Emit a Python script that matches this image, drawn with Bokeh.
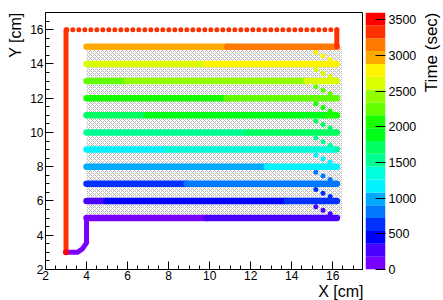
import colorsys
from bokeh.plotting import figure
from bokeh.layouts import row
from bokeh.models import SingleIntervalTicker, FixedTicker, Title
from bokeh.embed import file_html
from bokeh.resources import INLINE

FONT = "Liberation Sans"

# ---------------- data ----------------
# scan lines: y [cm], x start/end [cm], time [sec] at start/end
line_y  = [5, 6, 7, 8, 9, 10, 11, 12, 13, 14, 15]
line_x0 = [4.0, 4.0, 4.0, 4.0, 4.0, 4.0, 4.0, 4.0, 4.0, 4.0, 4.0]
line_x1 = [16.2, 16.2, 16.2, 16.2, 16.2, 16.2, 16.2, 16.2, 16.2, 16.2, 16.2]
line_t0 = [60, 340, 620, 900, 1180, 1460, 1740, 2020, 2300, 2580, 2880]
line_t1 = [310, 590, 870, 1150, 1430, 1710, 1990, 2270, 2550, 2830, 3200]
# fast returns between the lines (sparse dots), time [sec]
gap_t   = [330, 610, 890, 1170, 1450, 1730, 2010, 2290, 2570, 2850]
gap_dx  = [0.0, -0.15, -0.4, -0.75, -1.2]
gap_dy  = [0.0, 0.15, 0.3, 0.5, 0.78]
# start of the run
start_x = [3.0, 3.55, 3.8, 4.0, 4.0]
start_y = [3.0, 3.0, 3.2, 3.55, 5.0]
start_t = 20
# end of the run
rise_x, rise_y, rise_t = [16.2, 16.2], [15.0, 16.0], 3250
top_x,  top_y,  top_t  = [16.2, 3.0], [16.0, 16.0], 3280
down_x, down_y, down_t = [3.0, 3.0], [16.0, 3.0], 3320
end_x,  end_y,  end_t  = [3.0], [3.0], 3590
# scanned area (hatched)
area_x = [4.0, 16.45]
area_y = [5.0, 15.0]
# colour axis
t_max = 3600
n_bands = 20
cb_ticks = [0, 500, 1000, 1500, 2000, 2500, 3000, 3500]

# ---------------- palette (ROOT rainbow, 20 contours) ----------------
def hue_color(h):
    r, g, b = colorsys.hsv_to_rgb(h / 360.0, 1, 1)
    return "#%02x%02x%02x" % (round(r * 255), round(g * 255), round(b * 255))

palette = [hue_color(280 - int((i + 0.99) * 2.5) * 280 / 49) for i in range(n_bands)]
band = t_max / n_bands

def tcol(t):
    return palette[min(int(t // band), n_bands - 1)]

# ---------------- main figure ----------------
p = figure(frame_width=318, frame_height=257, x_range=(2, 17.5), y_range=(2, 17),
           output_backend="svg", toolbar_location=None,
           min_border_left=45, min_border_right=0, min_border_top=12, min_border_bottom=31)
p.xgrid.visible = False
p.ygrid.visible = False
p.outline_line_color = "black"
p.outline_line_width = 1

p.quad(left=[area_x[0]], right=[area_x[1]], bottom=[area_y[0]], top=[area_y[1]],
       fill_color=None, line_color=None, hatch_pattern="diagonal_cross",
       hatch_scale=4, hatch_weight=1, hatch_color="#b8b8b8")

p.line(start_x, start_y, line_color=tcol(start_t), line_width=5, line_cap="round", line_join="round")

for i, (y, x0, x1, t0, t1) in enumerate(zip(line_y, line_x0, line_x1, line_t0, line_t1)):
    sx0, sx1, sc = [], [], []
    for b in range(int(t0 // band), int(t1 // band) + 1):
        ta, tb = max(t0, b * band), min(t1, (b + 1) * band)
        if tb <= ta:
            continue
        sx0.append(x0 + (ta - t0) / (t1 - t0) * (x1 - x0))
        sx1.append(x0 + (tb - t0) / (t1 - t0) * (x1 - x0))
        sc.append(palette[min(b, n_bands - 1)])
    p.segment(x0=sx0, y0=[y] * len(sx0), x1=sx1, y1=[y] * len(sx0),
              line_color=sc, line_width=6.5, line_cap="round")
    if i < len(gap_t):
        p.line([x1 + d for d in gap_dx], [y + d for d in gap_dy], line_color=tcol(gap_t[i]),
               line_width=5, line_dash="0 8", line_cap="round")

p.line(rise_x, rise_y, line_color=tcol(rise_t), line_width=5, line_cap="round")
p.line(top_x, top_y, line_color=tcol(top_t), line_width=5, line_dash="0 6", line_cap="round")
p.line(down_x, down_y, line_color=tcol(down_t), line_width=5, line_cap="round")
p.scatter(end_x, end_y, size=6, fill_color=tcol(end_t), line_color=None)

for ax in (p.xaxis[0], p.yaxis[0]):
    ax.ticker = SingleIntervalTicker(interval=2, num_minor_ticks=4)
    ax.major_tick_in = 8
    ax.major_tick_out = 0
    ax.minor_tick_in = 4
    ax.minor_tick_out = 0
    ax.major_label_text_font = FONT
    ax.major_label_text_font_size = "12px"
    ax.major_label_text_color = "black"
    ax.axis_line_color = "black"
    ax.major_tick_line_color = "black"
    ax.minor_tick_line_color = "black"
p.xaxis.major_label_standoff = 1
p.yaxis.major_label_standoff = 2

def side_title(fig, text, side, size, standoff):
    t = Title(text=text, align="right", text_font=FONT, text_font_size=size,
              text_font_style="normal", text_color="black", standoff=standoff, offset=0)
    fig.add_layout(t, side)

side_title(p, "X [cm]", "below", "16px", -3)
side_title(p, "Y [cm]", "left", "16px", 8)

# ---------------- colour bar ----------------
cb = figure(frame_width=20, frame_height=257, x_range=(0, 1), y_range=(0, t_max),
            output_backend="svg", toolbar_location=None,
            x_axis_location=None, y_axis_location="right",
            min_border_left=2, min_border_right=33, min_border_top=12, min_border_bottom=31)
cb.xgrid.visible = False
cb.ygrid.visible = False
cb.outline_line_color = None
cb.quad(left=0, right=1, bottom=[i * band for i in range(n_bands)],
        top=[(i + 1) * band for i in range(n_bands)], fill_color=palette, line_color=None)
ya = cb.yaxis[0]
ya.ticker = FixedTicker(ticks=cb_ticks)
ya.major_tick_in = 10
ya.major_tick_out = 0
ya.minor_tick_line_color = None
ya.axis_line_color = None
ya.major_tick_line_color = "black"
ya.major_label_text_font = FONT
ya.major_label_text_font_size = "12.5px"
ya.major_label_text_color = "black"
ya.major_label_standoff = 3

# colour-axis title (reads bottom-to-top, aligned to the top)
ct = figure(frame_width=1, frame_height=257, output_backend="svg", toolbar_location=None,
            x_axis_location=None, y_axis_location=None,
            min_border_left=0, min_border_right=0, min_border_top=12, min_border_bottom=31)
ct.xgrid.visible = False
ct.ygrid.visible = False
ct.outline_line_color = None
side_title(ct, "Time (sec)", "left", "17px", 0)

layout = row(p, cb, ct)
open("out.html", "w").write(file_html(layout, INLINE))
